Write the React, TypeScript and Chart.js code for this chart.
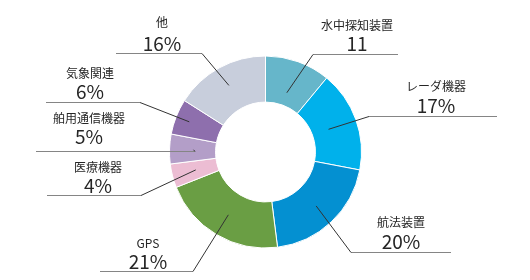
import React, { useEffect, useRef } from "react";
import { Chart, registerables } from "chart.js";

Chart.register(...registerables);

const categories = ["水中探知装置", "レーダ機器", "航法装置", "GPS", "医療機器", "舶用通信機器", "気象関連", "他"];
const shares = [11, 17, 20, 21, 4, 5, 6, 16];
const valueLabels = ["11", "17%", "20%", "21%", "4%", "5%", "6%", "16%"];
const colors = ["#66B6CA", "#00B1EB", "#0490D1", "#6A9E44", "#ECBDD3", "#B39EC8", "#8E6FAD", "#C8CEDC"];

// callout layout (positions only)
const calloutLayout = [
  { cx: 357, ny: 25.5, vy: 44, ly: 54.5, x0: 313, x1: 398, joint: "left", r: 63 },
  { cx: 436, ny: 86, vy: 105.5, ly: 116.5, x0: 369, x1: 497, joint: "left", r: 67 },
  { cx: 401, ny: 222, vy: 241.5, ly: 252.5, x0: 351, x1: 451, joint: "left", r: 74 },
  { cx: 148, ny: 243, vy: 262, ly: 271.5, x0: 100, x1: 193, joint: "right", r: 73 },
  { cx: 98, ny: 167, vy: 186, ly: 195.5, x0: 47, x1: 141, joint: "right", r: 72 },
  { cx: 89, ny: 118, vy: 137, ly: 151.5, x0: 36, x1: 195, joint: "right", r: 72 },
  { cx: 90, ny: 73, vy: 92, ly: 102.5, x0: 46, x1: 140, joint: "right", r: 82 },
  { cx: 162, ny: 22.5, vy: 43.5, ly: 53.5, x0: 116, x1: 202, joint: "right", r: 76 },
];

const FONT = "'Noto Sans CJK JP', 'Noto Sans', sans-serif";

const calloutPlugin = {
  id: "callouts",
  afterDatasetsDraw(chart: any) {
    const ctx = chart.ctx;
    const meta = chart.getDatasetMeta(0);
    ctx.save();
    meta.data.forEach((arc: any, i: number) => {
      const L = calloutLayout[i];
      const props = arc.getProps(["x", "y", "startAngle", "endAngle"], true);
      const mid = (props.startAngle + props.endAngle) / 2;
      const px = props.x + Math.cos(mid) * L.r;
      const py = props.y + Math.sin(mid) * L.r;
      const jx = L.joint === "left" ? L.x0 : L.x1;
      ctx.strokeStyle = "#858585";
      ctx.lineWidth = 1;
      ctx.beginPath();
      ctx.moveTo(L.x0, L.ly);
      ctx.lineTo(L.x1, L.ly);
      ctx.stroke();
      ctx.strokeStyle = "#333333";
      ctx.beginPath();
      ctx.moveTo(jx, L.ly);
      ctx.lineTo(px, py);
      ctx.stroke();
      ctx.fillStyle = "#262626";
      ctx.textAlign = "center";
      ctx.textBaseline = "middle";
      ctx.font = `12px ${FONT}`;
      ctx.fillText(categories[i], L.cx, L.ny);
      ctx.font = `19px ${FONT}`;
      ctx.fillText(valueLabels[i], L.cx, L.vy);
    });
    ctx.restore();
  },
};

export default function App() {
  const ref = useRef<HTMLCanvasElement>(null);
  useEffect(() => {
    document.body.style.margin = "0";
    const chart = new Chart(ref.current!, {
      type: "doughnut",
      data: {
        labels: categories,
        datasets: [
          {
            data: shares,
            backgroundColor: colors,
            borderColor: "#ffffff",
            borderWidth: 1,
          },
        ],
      },
      options: {
        animation: false,
        responsive: false,
        cutout: "52%",
        layout: { padding: { top: 55.5, bottom: 31.5, left: 1, right: 0 } },
        plugins: { legend: { display: false }, tooltip: { enabled: false } },
      },
      plugins: [calloutPlugin],
    });
    return () => chart.destroy();
  }, []);
  return (
    <div style={{ width: 530, height: 280 }}>
      <canvas ref={ref} width={530} height={280} style={{ display: "block" }} />
    </div>
  );
}
